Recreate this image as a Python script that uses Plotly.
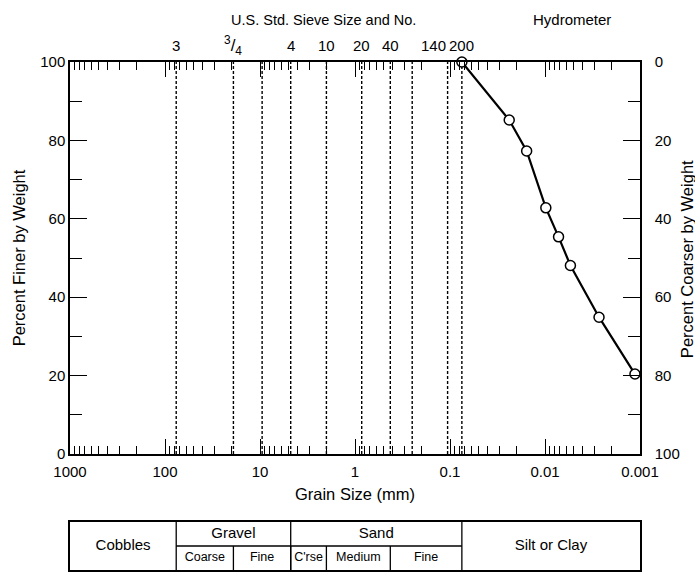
import numpy as np
import plotly.graph_objects as go

# ---------------- data ----------------
grain_size_mm = [0.075, 0.0238, 0.0156, 0.0098, 0.0072, 0.0054, 0.0027, 0.00113]
percent_finer = [100, 85.2, 77.3, 62.8, 55.4, 48.1, 34.9, 20.4]

sieve_sizes_mm = [76.2, 19.05, 9.5, 4.75, 2.0, 0.85, 0.425, 0.25, 0.106, 0.075]
sieve_labels = ["3", "<sup>3</sup>/<sub>4</sub>", "", "4", "10", "20", "40", "", "140", "200"]

x_tick_vals = [1000, 100, 10, 1, 0.1, 0.01, 0.001]
x_tick_text = ["1000", "100", "10", "1", "0.1", "0.01", "0.001"]
y_tick_vals = [0, 20, 40, 60, 80, 100]

soil_classes = ["Cobbles", "Gravel", "Sand", "Silt or Clay"]
class_bounds = [1000, 76.2, 4.75, 0.075, 0.001]
sub_classes = ["Coarse", "Fine", "C'rse", "Medium", "Fine"]
sub_bounds = [76.2, 19.05, 4.75, 2.0, 0.425, 0.075]

FONT = "Liberation Sans, Arial, sans-serif"

fig = go.Figure()

# dotted sieve lines
sx, sy = [], []
for s in sieve_sizes_mm:
    sx += [s, s, None]
    sy += [0, 100, None]
fig.add_trace(go.Scatter(x=sx, y=sy, mode="lines",
                         line=dict(color="black", width=1.4, dash="3px,2px"),
                         hoverinfo="skip", showlegend=False))

# gradation curve
fig.add_trace(go.Scatter(x=grain_size_mm, y=percent_finer, mode="lines+markers",
                         line=dict(color="black", width=2.2),
                         marker=dict(symbol="circle", size=10, color="white",
                                     line=dict(color="black", width=1.5)),
                         cliponaxis=False, showlegend=False))

# ---------------- classification table ----------------
tx, ty = [], []
tx += [class_bounds[1], class_bounds[3], None]
ty += [1, 1, None]
for b in class_bounds[1:-1]:
    tx += [b, b, None]
    ty += [0, 2, None]
for b in sub_bounds[1:-1]:
    tx += [b, b, None]
    ty += [0, 1, None]
fig.add_trace(go.Scatter(x=tx, y=ty, mode="lines", xaxis="x3", yaxis="y3",
                         line=dict(color="black", width=1.3),
                         hoverinfo="skip", showlegend=False))

def gmid(a, b):
    return float(np.sqrt(a * b))

lab_x, lab_y, lab_t, lab_s = [], [], [], []
for i, name in enumerate(soil_classes):
    lab_x.append(gmid(class_bounds[i], class_bounds[i + 1]))
    lab_y.append(1.5 if name in ("Gravel", "Sand") else 1.0)
    lab_s.append(15)
    lab_t.append(name)
for i, name in enumerate(sub_classes):
    lab_x.append(gmid(sub_bounds[i], sub_bounds[i + 1]))
    lab_y.append(0.5)
    lab_s.append(12.5)
    lab_t.append(name)
fig.add_trace(go.Scatter(x=lab_x, y=lab_y, text=lab_t, mode="text", xaxis="x3", yaxis="y3",
                         textfont=dict(family=FONT, size=lab_s, color="black"),
                         hoverinfo="skip", showlegend=False))

# ---------------- sieve labels on top ----------------
annotations = []
for s, lab in zip(sieve_sizes_mm, sieve_labels):
    if not lab:
        continue
    annotations.append(dict(x=np.log10(s), xref="x", y=1.032, yref="paper",
                            text=lab, showarrow=False,
                            xanchor="right" if lab == "140" else "center",
                            yanchor="middle",
                            font=dict(family=FONT, size=17 if "sup" in lab else 15,
                                      color="black")))
annotations.append(dict(x=0.444, xref="paper", y=1.083, yref="paper",
                        text="U.S. Std. Sieve Size and No.", showarrow=False,
                        xanchor="center", yanchor="middle",
                        font=dict(family=FONT, size=14.5, color="black")))
annotations.append(dict(x=0.881, xref="paper", y=1.083, yref="paper",
                        text="Hydrometer", showarrow=False,
                        xanchor="center", yanchor="middle",
                        font=dict(family=FONT, size=15, color="black")))
# right-hand axis title (placed as text so it can sit beside the tick labels)
annotations.append(dict(x=1.0825, xref="paper", y=0.612, yref="paper",
                        text="Percent Coarser by Weight", showarrow=False,
                        textangle=-90, xanchor="center", yanchor="middle",
                        font=dict(family=FONT, size=16.5, color="black")))

minor_x = [m * 10.0 ** e for e in range(-3, 3) for m in range(2, 10)]

axis_common = dict(showgrid=False, zeroline=False, linecolor="black", linewidth=1.5,
                   tickcolor="black", automargin=False,
                   tickfont=dict(family=FONT, size=15, color="black"))

fig.update_layout(
    width=695, height=578,
    margin=dict(l=70, r=55, t=62, b=8),
    paper_bgcolor="white", plot_bgcolor="white",
    font=dict(family=FONT, color="black"),
    showlegend=False,
    annotations=annotations,
    xaxis=dict(type="log", range=[3, -3], domain=[0, 1], anchor="y",
               tickvals=x_tick_vals, ticktext=x_tick_text,
               ticks="inside", ticklen=15, tickwidth=1.2,
               showline=True, mirror="ticks", ticklabelstandoff=3,
               minor=dict(tickvals=minor_x, ticks="inside", ticklen=8,
                          tickwidth=1, tickcolor="black"),
               title=dict(text="Grain Size (mm)", font=dict(family=FONT, size=16.5, color="black"),
                          standoff=10),
               **axis_common),
    yaxis=dict(range=[0, 100], domain=[0.2283, 1], anchor="x",
               tickvals=y_tick_vals, ticks="inside", ticklen=17, tickwidth=1.4,
               showline=True,
               minor=dict(tick0=0, dtick=10, ticks="inside", ticklen=12,
                          tickwidth=1.4, tickcolor="black"),
               title=dict(text="Percent Finer by Weight",
                          font=dict(family=FONT, size=16.5, color="black"), standoff=10),
               **axis_common),
    yaxis2=dict(range=[100, 0], overlaying="y", side="right", anchor="x",
                tickvals=y_tick_vals, ticks="inside", ticklen=17, tickwidth=1.4,
                showline=True, ticklabelstandoff=10,
                minor=dict(tick0=0, dtick=10, ticks="inside", ticklen=12,
                           tickwidth=1.4, tickcolor="black"),
                **axis_common),
    xaxis3=dict(type="log", range=[3, -3], domain=[0, 1], anchor="y3",
                showticklabels=False, ticks="", showline=True, mirror=True,
                showgrid=False, zeroline=False, linecolor="black", linewidth=1.5),
    yaxis3=dict(range=[0, 2], domain=[0, 0.0945], anchor="x3",
                showticklabels=False, ticks="", showline=True, mirror=True,
                showgrid=False, zeroline=False, linecolor="black", linewidth=1.5),
)

fig.add_trace(go.Scatter(x=[grain_size_mm[0]], y=[0], yaxis="y2", mode="markers",
                         marker=dict(opacity=0), hoverinfo="skip", showlegend=False))

# remove the default page margin and scrollbars so the 695x578 figure fills the window
fig.write_html("out.html",
               config={"displayModeBar": False},
               post_script="document.body.style.margin='0';"
                           "document.body.style.overflow='hidden';"
                           "document.documentElement.style.overflow='hidden';")
